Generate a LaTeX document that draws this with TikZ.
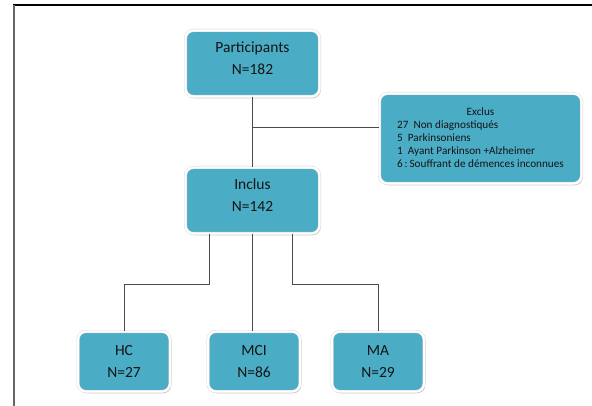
\documentclass[tikz,border=0pt]{standalone}
\usepackage{fontspec}
\setmainfont{Carlito}
\usetikzlibrary{shadows, positioning}
\definecolor{boxfill}{HTML}{4BACC6}
\definecolor{boxtext}{HTML}{141414}
\definecolor{linegray}{HTML}{4A4A4A}

\begin{document}
\begin{tikzpicture}[x=1pt,y=-1pt,
	box/.style={rectangle, rounded corners=8pt, fill=boxfill, draw=gray!35, line width=0.4pt,
		double=white, double distance=2.2pt,
		drop shadow={shadow xshift=1.2pt, shadow yshift=-1.8pt, fill=gray!60, opacity=0.7},
		text=boxtext, align=center, font=\fontsize{15.5}{22}\selectfont},
	link/.style={draw=linegray, line width=0.9pt}]
	\useasboundingbox (0,0) rectangle (592,406);
	
	% frame
	\draw[line width=1.3pt] (13,5) -- (592,5);
	\draw[gray!80!black, line width=1.1pt] (14,5) -- (14,406);
	
	\node[box, minimum width=134pt, minimum height=66pt, text depth=10pt] (part) at (252.5,63.5) {Participants\\N=182};
	\node[box, minimum width=134pt, minimum height=66pt, text depth=10pt] (incl) at (252.5,200.5) {Inclus\\N=142};
	\node[box, minimum width=202pt, minimum height=90pt, align=left, font=\fontsize{11.2}{13}\selectfont] (excl) at (480.5,138.5)
		{\begin{tabular}{@{}l@{}}
			\multicolumn{1}{@{}c@{}}{Exclus}\\
			27~ Non diagnostiqués\\
			5~ Parkinsoniens\\
			1~ Ayant Parkinson +Alzheimer\\
			6\,:\,Souffrant de démences inconnues
		\end{tabular}};
	
	\node[box, minimum width=92pt, minimum height=60pt] (hc) at (124,361.5) {HC\\N=27};
	\node[box, minimum width=92pt, minimum height=60pt] (mci) at (254,361.5) {MCI\\N=86};
	\node[box, minimum width=92pt, minimum height=60pt] (ma) at (378,361.5) {MA\\N=29};
	
	% connectors
	\coordinate (jn) at (252.5,127);
	\coordinate (lsplit) at (209,284);
	\coordinate (rsplit) at (292,284);
	
	\draw[link] (part) -- (incl);
	\draw[link] (jn) -- (jn -| excl.west);
	\draw[link] (incl.south -| lsplit) -- (lsplit) -| (hc.north);
	\draw[link] (incl.south) -- (incl.south |- mci.north);
	\draw[link] (incl.south -| rsplit) -- (rsplit) -| (ma.north);
\end{tikzpicture}
\end{document}
